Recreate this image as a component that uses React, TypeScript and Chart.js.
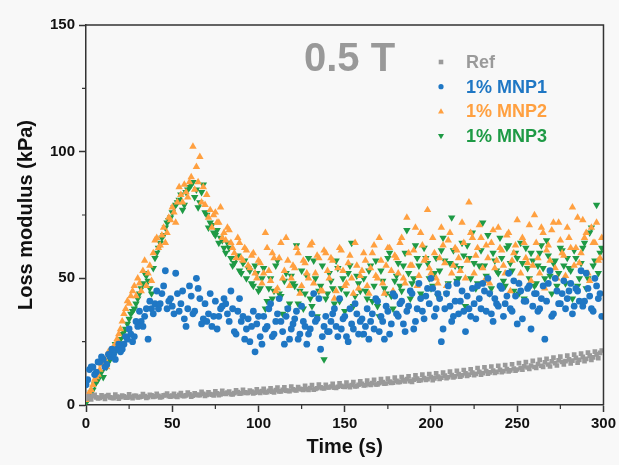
import React, { useEffect, useRef } from "react";
import { Chart, registerables } from "chart.js";

Chart.register(...registerables);

// sampling times: even seconds (0..298) and odd seconds (1..299)
const timesEven: number[] = Array.from({ length: 150 }, (_, i) => i * 2);
const timesOdd: number[] = Array.from({ length: 150 }, (_, i) => i * 2 + 1);

const refEven: number[] = [
  2.5, 3, 3.5, 3, 2.8, 3.2, 3.5, 3, 2.7, 3.3, 3.1, 3.4, 2.9, 3.2, 3.6, 3, 3.3, 3.5, 3.1, 3.8, 3.4, 3.6, 3.2, 3.9, 3.5, 3.7,
  3.4, 4, 3.6, 3.8, 4.2, 3.7, 4.1, 3.9, 4.4, 4, 4.3, 3.8, 4.6, 4.2, 4.5, 4.9, 4.3, 4.7, 5.1, 4.6, 5, 4.8, 5.3, 4.9, 5.2,
  5.5, 5, 5.6, 5.3, 5.9, 5.4, 6, 5.7, 5.5, 6.2, 5.8, 6.4, 6, 6.3, 6.7, 6.1, 6.6, 7, 6.5, 6.9, 7.3, 6.8, 7.2, 7.6, 7.1,
  7.5, 7.9, 7.3, 8, 8.4, 7.8, 8.3, 8.7, 8.1, 8.6, 9, 8.5, 9.2, 8.8, 9.5, 9.1, 9.7, 10.2, 9.4, 10, 10.4, 9.8, 10.6, 10.2, 11,
  10.5, 11.2, 10.8, 11.6, 11, 11.8, 11.3, 12.2, 11.7, 12.5, 12, 12.8, 12.3, 13.1, 12.6, 13.4, 12.9, 13.6, 13.1, 13.9, 13.4, 14.2, 13.7, 14.4, 14,
  14.6, 15.3, 14.8, 15.6, 15, 16.2, 15.5, 16.8, 16, 17.2, 16.5, 17.6, 17, 17.3, 18, 17.5, 18.6, 17.8, 19, 18.2, 19.5, 18.8, 20, 20.6,
];
const refOdd: number[] = [
  3.5, 2.2, 4, 2.6, 3.8, 2.4, 3.9, 2.8, 4.1, 2.5, 3.7, 2.9, 4.2, 2.7, 3.6, 3.1, 4.3, 2.8, 4, 3.2, 4.4, 3, 3.8, 4.5, 3.3,
  4.4, 3.2, 4.7, 3.5, 4.9, 3.3, 4.6, 3.9, 5.2, 3.6, 5, 4.1, 5.4, 3.9, 5.6, 4.4, 5.3, 4.2, 5.8, 4.5, 6, 4.8, 5.7, 4.6, 6.2,
  4.8, 6.4, 5.1, 6.6, 5, 6.9, 5.4, 7, 5.6, 7.3, 5.9, 7.1, 6.2, 7.6, 6, 7.9, 6.3, 8.1, 6.6, 8, 6.9, 8.4, 6.7, 8.6, 7.2,
  8.8, 7, 9, 7.4, 9.3, 7.7, 9.6, 7.9, 9.9, 8.1, 10.2, 8.4, 10.4, 8.7, 10.8, 9, 11, 9.3, 11.3, 9.1, 11.7, 9.6, 12, 9.9, 12.2,
  9.8, 12.5, 10.3, 12.8, 10.6, 13.2, 10.9, 13.5, 11.2, 13.8, 11.5, 14.1, 11.8, 14.6, 12, 14.9, 12.4, 15.2, 12.7, 15.5, 13, 15.8, 13.3, 16.1, 13.6,
  16.5, 13.9, 16.9, 14.2, 17.4, 14.6, 17.8, 15, 18.2, 15.2, 18.7, 15.6, 19.1, 16, 19.5, 16.4, 19.9, 16.7, 20.3, 17.3, 20.7, 17.8, 21.1, 18.5, 21.5,
];

const mnp1Even: number[] = [
  8, 14, 15, 13, 17, 18, 16, 19, 20, 22, 21,
  24, 26, 28, 27, 31, 33, 35, 26, 38, 40,
  38, 44, 53, 41, 39, 52, 37, 45, 31, 47,
  36, 50, 42, 34, 33, 44, 35, 30, 38, 42,
  36, 45, 29, 37, 33, 26, 34, 31, 21, 35,
  24, 30, 38, 27, 33, 42, 29, 35, 26, 32,
  37, 28, 33, 24, 30, 44, 34, 22, 31, 29,
  33, 38, 27, 30, 35, 25, 32, 40, 28, 34,
  31, 26, 36, 42, 29, 33, 39, 28, 44, 36,
  40, 32, 37, 45, 30, 38, 42, 34, 46, 50,
  35, 44, 25, 38, 47, 33, 41, 36, 45, 29,
  38, 46, 34, 42, 48, 37, 44, 33, 40, 47,
  35, 43, 38, 49, 32, 45, 41, 46, 30, 44,
  37, 42, 26, 48, 35, 50, 40, 44, 38, 45,
  36, 46, 41, 39, 52, 43, 37, 47, 44,
];
const mnp1Odd: number[] = [
  10, 15, 12, 17, 19, 15, 20, 22, 18, 24,
  22, 27, 30, 25, 33, 37, 31, 38, 41, 36,
  45, 40, 47, 38, 42, 36, 44, 40, 34, 38,
  43, 37, 46, 32, 40, 36, 31, 41, 35, 39,
  40, 33, 38, 28, 42, 35, 30, 25, 37, 32,
  27, 35, 31, 40, 28, 36, 33, 24, 38, 30,
  34, 26, 39, 31, 28, 36, 33, 42, 27, 35,
  29, 36, 31, 42, 34, 27, 38, 30, 36, 33,
  28, 38, 33, 30, 41, 35, 26, 37, 32, 43,
  35, 41, 29, 39, 44, 33, 48, 37, 43, 40,
  46, 38, 42, 30, 44, 39, 35, 48, 41, 37,
  43, 35, 40, 47, 38, 45, 50, 36, 42, 39,
  46, 40, 52, 37, 43, 48, 34, 41, 47, 39,
  44, 38, 47, 41, 53, 36, 45, 40, 49, 42,
  48, 39, 45, 53, 41, 46, 38, 50, 42, 35,
];

const mnp2Even: number[] = [
  2, 5, 8, 11, 14, 17, 15, 20, 23, 26, 30,
  36, 41, 43, 47, 50, 45, 57, 52, 49, 65,
  62, 67, 64, 74, 78, 72, 86, 80, 84, 88,
  102, 94, 98, 86, 83, 77, 75, 72, 78, 68,
  70, 64, 60, 66, 58, 62, 55, 59, 52, 57,
  48, 68, 53, 60, 45, 58, 50, 66, 47, 55,
  62, 44, 57, 52, 63, 48, 59, 45, 61, 53,
  58, 42, 54, 61, 47, 56, 50, 64, 46, 53,
  57, 44, 60, 51, 66, 48, 55, 62, 45, 58,
  64, 50, 74, 55, 61, 47, 68, 57, 77, 52,
  60, 48, 70, 56, 65, 52, 62, 58, 72, 50,
  80, 66, 59, 71, 54, 63, 48, 69, 57, 62,
  55, 67, 45, 60, 73, 52, 64, 56, 49, 75,
  58, 70, 46, 63, 69, 54, 72, 60, 51, 66,
  78, 62, 56, 73, 68, 49, 64, 72, 58,
];
const mnp2Odd: number[] = [
  3, 6, 10, 12, 16, 18, 21, 19, 24, 28,
  33, 38, 40, 45, 43, 48, 53, 47, 55, 60,
  66, 63, 70, 68, 73, 76, 80, 83, 87, 82,
  90, 85, 88, 80, 79, 74, 70, 76, 72, 66,
  65, 69, 62, 58, 64, 57, 61, 54, 60, 50,
  56, 52, 62, 49, 58, 46, 64, 53, 57, 50,
  54, 60, 47, 56, 50, 64, 52, 58, 45, 60,
  50, 57, 45, 62, 53, 48, 59, 44, 55, 51,
  60, 47, 54, 63, 50, 57, 44, 62, 53, 59,
  52, 66, 48, 60, 55, 70, 51, 63, 58, 54,
  66, 50, 58, 63, 47, 68, 55, 61, 53, 64,
  57, 68, 52, 62, 66, 49, 58, 64, 54, 70,
  61, 52, 68, 57, 63, 48, 66, 58, 71, 55,
  64, 52, 68, 61, 57, 72, 50, 65, 59, 70,
  62, 55, 74, 60, 66, 52, 70, 64, 57, 66,
];

const mnp3Even: number[] = [
  1, 3, 6, 9, 12, 11, 15, 18, 20, 22, 26,
  29, 32, 36, 38, 42, 46, 52, 49, 44, 58,
  62, 66, 70, 73, 76, 79, 81, 77, 84, 86,
  88, 85, 80, 87, 75, 72, 68, 69, 66, 62,
  64, 58, 56, 59, 52, 57, 54, 48, 55, 45,
  50, 38, 46, 42, 55, 44, 36, 52, 40, 48,
  63, 45, 38, 51, 42, 57, 35, 47, 18, 44,
  49, 40, 54, 46, 37, 52, 64, 43, 48, 28,
  45, 53, 41, 57, 35, 49, 44, 60, 38, 51,
  47, 55, 69, 42, 50, 58, 44, 62, 56, 46,
  52, 43, 61, 57, 48, 74, 55, 50, 64, 39,
  58, 68, 46, 55, 72, 51, 44, 60, 53, 66,
  49, 62, 56, 45, 58, 64, 42, 54, 60, 47,
  55, 63, 50, 59, 44, 57, 52, 61, 48, 54,
  42, 58, 50, 62, 46, 68, 55, 79, 60,
];
const mnp3Odd: number[] = [
  2, 5, 8, 10, 13, 16, 17, 21, 24, 25,
  28, 30, 34, 37, 40, 44, 48, 51, 46, 54,
  60, 64, 67, 72, 74, 78, 80, 83, 79, 85,
  87, 82, 78, 84, 76, 70, 71, 67, 64, 65,
  60, 62, 55, 58, 53, 56, 50, 53, 47, 52,
  46, 54, 41, 50, 45, 57, 43, 49, 38, 51,
  47, 40, 53, 44, 58, 39, 50, 45, 55, 42,
  52, 46, 57, 41, 50, 44, 55, 39, 51, 45,
  50, 42, 55, 47, 39, 53, 46, 58, 43, 49,
  56, 45, 60, 52, 48, 63, 55, 43, 58, 50,
  47, 58, 53, 66, 44, 56, 61, 49, 54, 59,
  63, 50, 56, 48, 61, 55, 67, 46, 57, 52,
  58, 47, 63, 53, 60, 44, 56, 62, 50, 57,
  48, 60, 54, 65, 51, 56, 47, 62, 55, 58,
  53, 61, 47, 56, 64, 50, 70, 57, 52, 62,
];

const seriesNames: string[] = ["Ref", "1% MNP1", "1% MNP2", "1% MNP3"];
const xTickValues: number[] = [0, 50, 100, 150, 200, 250, 300];
const yTickValues: number[] = [0, 50, 100, 150];
const xMinorTicks: number[] = [25, 75, 125, 175, 225, 275];
const yMinorTicks: number[] = [25, 75, 125];
const fieldLabel = "0.5 T";

const COLORS = ["#9a9a9a", "#1f77c4", "#ffa040", "#1e9a45"];
const FONT = "'Liberation Sans', Arial, sans-serif";

const toPoints = (even: number[], odd: number[]) =>
  even.map((v, i) => ({ x: timesEven[i], y: v })).concat(odd.map((v, i) => ({ x: timesOdd[i], y: v })));

export default function App() {
  const canvasRef = useRef<HTMLCanvasElement | null>(null);

  useEffect(() => {
    const canvas = canvasRef.current;
    if (!canvas) return;

    const decorPlugin = {
      id: "decor",
      afterDraw(chart: any) {
        const { ctx, chartArea } = chart;
        const xs = chart.scales.x;
        const ys = chart.scales.y;
        ctx.save();
        ctx.strokeStyle = "#333";
        ctx.lineWidth = 1.5;
        ctx.beginPath();
        ctx.moveTo(chartArea.left, chartArea.top);
        ctx.lineTo(chartArea.right, chartArea.top);
        ctx.lineTo(chartArea.right, chartArea.bottom);
        ctx.stroke();
        ctx.lineWidth = 1.2;
        ctx.beginPath();
        xMinorTicks.forEach((v) => {
          const px = xs.getPixelForValue(v);
          ctx.moveTo(px, chartArea.bottom);
          ctx.lineTo(px, chartArea.bottom + 4);
        });
        yMinorTicks.forEach((v) => {
          const py = ys.getPixelForValue(v);
          ctx.moveTo(chartArea.left, py);
          ctx.lineTo(chartArea.left - 4, py);
        });
        ctx.stroke();
        ctx.fillStyle = "#999999";
        ctx.font = `bold 40px ${FONT}`;
        ctx.textAlign = "left";
        ctx.textBaseline = "middle";
        ctx.fillText(fieldLabel, 304, 60);
        const styles = ["rect", "circle", "triangle", "triangleDown"];
        seriesNames.forEach((name, i) => {
          const y = 62 + i * 24.7;
          const mx = 441;
          ctx.fillStyle = COLORS[i];
          ctx.beginPath();
          const s = styles[i];
          if (s === "rect") {
            ctx.rect(mx - 2.3, y - 2.3, 4.6, 4.6);
          } else if (s === "circle") {
            ctx.arc(mx, y, 2.6, 0, Math.PI * 2);
          } else if (s === "triangle") {
            ctx.moveTo(mx, y - 3.2);
            ctx.lineTo(mx + 3, y + 2.2);
            ctx.lineTo(mx - 3, y + 2.2);
            ctx.closePath();
          } else {
            ctx.moveTo(mx, y + 3.2);
            ctx.lineTo(mx + 3, y - 2.2);
            ctx.lineTo(mx - 3, y - 2.2);
            ctx.closePath();
          }
          ctx.fill();
          ctx.font = `bold 18px ${FONT}`;
          ctx.fillText(name, 466, y + 1);
        });
        ctx.restore();
      },
    };

    const chart = new Chart(canvas, {
      type: "scatter",
      data: {
        datasets: [
          {
            label: seriesNames[0],
            data: toPoints(refEven, refOdd),
            pointStyle: "rect",
            pointRadius: 3.3,
            backgroundColor: COLORS[0],
            borderColor: COLORS[0],
            borderWidth: 0,
          },
          {
            label: seriesNames[1],
            data: toPoints(mnp1Even, mnp1Odd),
            pointStyle: "circle",
            pointRadius: 3.4,
            backgroundColor: COLORS[1],
            borderColor: COLORS[1],
            borderWidth: 0,
          },
          {
            label: seriesNames[2],
            data: toPoints(mnp2Even, mnp2Odd),
            pointStyle: "triangle",
            pointRadius: 4.3,
            backgroundColor: COLORS[2],
            borderColor: COLORS[2],
            borderWidth: 0,
          },
          {
            label: seriesNames[3],
            data: toPoints(mnp3Even, mnp3Odd),
            pointStyle: "triangle",
            rotation: 180,
            pointRadius: 4.3,
            backgroundColor: COLORS[3],
            borderColor: COLORS[3],
            borderWidth: 0,
          },
        ],
      },
      options: {
        animation: false,
        responsive: false,
        devicePixelRatio: 1,
        layout: { padding: { left: 0, top: 25, right: 13, bottom: 0 } },
        plugins: {
          legend: { display: false },
          tooltip: { enabled: false },
        },
        scales: {
          x: {
            type: "linear",
            min: 0,
            max: 300,
            afterBuildTicks: (scale: any) => {
              scale.ticks = xTickValues.map((v) => ({ value: v }));
            },
            afterFit: (scale: any) => {
              scale.height = 60;
            },
            ticks: {
              font: { family: FONT, size: 15, weight: "bold" },
              color: "#111",
              padding: 3,
              maxRotation: 0,
            },
            grid: { drawOnChartArea: false, tickLength: 7, tickColor: "#333", tickWidth: 1.5 },
            border: { color: "#333", width: 1.5 },
            title: {
              display: true,
              text: "Time (s)",
              font: { family: FONT, size: 20, weight: "bold" },
              color: "#111",
              padding: { top: 0, bottom: 6 },
            },
          },
          y: {
            type: "linear",
            min: 0,
            max: 150,
            afterBuildTicks: (scale: any) => {
              scale.ticks = yTickValues.map((v) => ({ value: v }));
            },
            afterFit: (scale: any) => {
              scale.width = 86;
            },
            ticks: {
              font: { family: FONT, size: 15, weight: "bold" },
              color: "#111",
              padding: 4,
            },
            grid: { drawOnChartArea: false, tickLength: 7, tickColor: "#333", tickWidth: 1.5 },
            border: { color: "#333", width: 1.5 },
            title: {
              display: true,
              text: "Loss modulus (kPa)",
              font: { family: FONT, size: 20, weight: "bold" },
              color: "#111",
              padding: { top: 14, bottom: 0 },
            },
          },
        },
      },
      plugins: [decorPlugin],
    } as any);

    return () => chart.destroy();
  }, []);

  return (
    <div
      style={{
        position: "absolute",
        left: 0,
        top: 0,
        width: 619,
        height: 465,
        background: "#f8f8f8",
      }}
    >
      <canvas ref={canvasRef} width={619} height={465} style={{ width: 619, height: 465 }} />
    </div>
  );
}
